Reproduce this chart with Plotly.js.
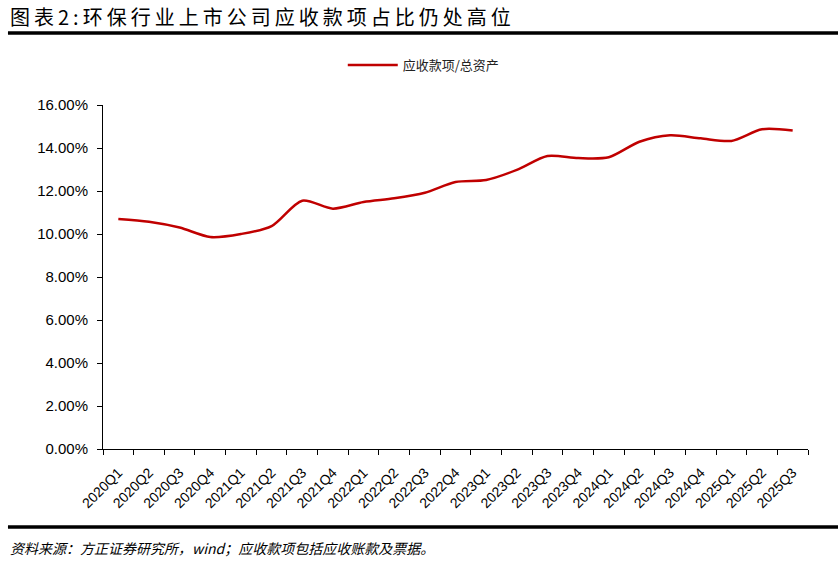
<!DOCTYPE html>
<html>
<head>
<meta charset="utf-8">
<script src="https://cdn.plot.ly/plotly-3.0.1.min.js"></script>
<style>html,body{margin:0;padding:0;background:#fff;}#chart{width:838px;height:568px;}</style>
</head>
<body>
<div id="chart"></div>
<script>
const quarters = ["2020Q1","2020Q2","2020Q3","2020Q4","2021Q1","2021Q2","2021Q3","2021Q4","2022Q1","2022Q2","2022Q3","2022Q4","2023Q1","2023Q2","2023Q3","2023Q4","2024Q1","2024Q2","2024Q3","2024Q4","2025Q1","2025Q2","2025Q3"];
const ratio = [0.1070,0.1057,0.1030,0.0986,0.1000,0.1037,0.1155,0.1118,0.1149,0.1166,0.1192,0.1242,0.1251,0.1298,0.1363,0.1353,0.1357,0.1429,0.1459,0.1445,0.1433,0.1487,0.1481];
const seriesName = "应收款项/总资产";
const titleText = "图表2:环保行业上市公司应收款项占比仍处高位";
const sourceText = "资料来源：方正证券研究所，wind；应收款项包括应收账款及票据。";

const cjk = '"Noto Sans CJK SC", sans-serif';
const spaced = Array.from(titleText).join('\u2009');
const data = [{
  x: quarters, y: ratio, type: 'scatter', mode: 'lines', name: seriesName,
  line: {color: '#C00000', width: 2.5, shape: 'spline', smoothing: 0.8}
}];
const layout = {
  width: 838, height: 568,
  margin: {l: 103, r: 30, t: 105, b: 119},
  paper_bgcolor: '#fff', plot_bgcolor: '#fff',
  showlegend: true,
  legend: {orientation: 'h', x: 0.455, xanchor: 'center', y: 1.116, yanchor: 'middle', itemwidth: 50,
           font: {family: cjk, size: 13, color: '#222'}},
  xaxis: {type: 'category', range: [-0.5, 22.5], showline: true, linecolor: '#000', linewidth: 1,
          ticks: 'outside', tickson: 'boundaries', ticklen: 5, tickcolor: '#000', tickangle: -45,
          ticklabelstandoff: 9,
          showgrid: false, zeroline: false,
          tickfont: {family: 'Liberation Sans, Arial, sans-serif', size: 14, color: '#000'}},
  yaxis: {range: [0, 0.16], dtick: 0.02, tickformat: '.2%', showline: true, linecolor: '#000', linewidth: 1,
          ticks: 'outside', ticklen: 5, tickcolor: '#000', showgrid: false, zeroline: false,
          ticklabelstandoff: 6,
          tickfont: {family: 'Liberation Sans, Arial, sans-serif', size: 15, color: '#000'}},
  shapes: [
    {type: 'line', xref: 'paper', yref: 'paper', x0: -0.1348, x1: 1.0426, y0: 1.2093, y1: 1.2093,
     line: {color: '#000', width: 3.5}},
    {type: 'line', xref: 'paper', yref: 'paper', x0: -0.1348, x1: 1.0426, y0: -0.2267, y1: -0.2267,
     line: {color: '#000', width: 3.5}}
  ],
  annotations: [
    {text: spaced, xref: 'paper', yref: 'paper', x: -0.1348, y: 1.256, xanchor: 'left', yanchor: 'middle',
     showarrow: false, font: {family: cjk, size: 20, color: '#000'}},
    {text: '<i>' + sourceText + '</i>', xref: 'paper', yref: 'paper', x: -0.1348, y: -0.2878, xanchor: 'left', yanchor: 'middle',
     showarrow: false, font: {family: cjk, size: 14, color: '#000'}}
  ]
};
Plotly.newPlot('chart', data, layout, {displayModeBar: false, staticPlot: true});
</script>
</body>
</html>
